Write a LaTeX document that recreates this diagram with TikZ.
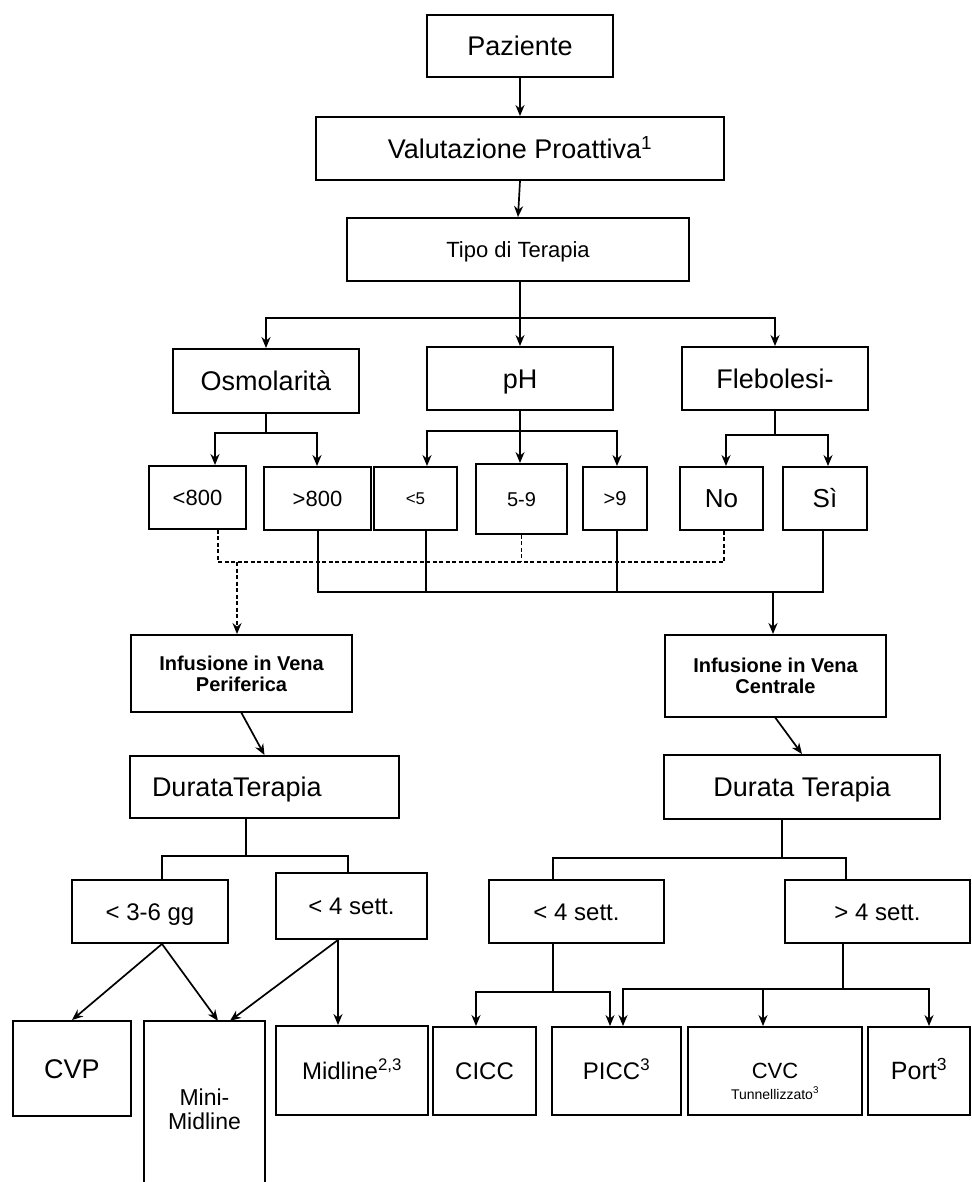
\documentclass[tikz,border=0pt]{standalone}
\usepackage{fontspec}
\setmainfont{Liberation Sans}
\usetikzlibrary{arrows.meta}

\begin{document}
\begin{tikzpicture}[x=1pt,y=-1pt,>={Stealth[length=11pt,width=9pt]},
sz/.style={font=\fontsize{#1}{#1}\selectfont,text height=0.716*#1pt,text depth=0pt},
box/.style={draw,line width=1.9pt,inner sep=0pt,align=center},
frame/.style={line width=1.9pt},
wire/.style={line width=1.7pt,line cap=rect},
bus/.style={line width=2.8pt,line cap=rect},
dotline/.style={line width=1.6pt,dash pattern=on 4pt off 2.5pt}]
\useasboundingbox (0,0) rectangle (971,1182);
\node[box,sz=27,minimum width=186pt,minimum height=62pt](paz) at (520,46){Paziente};
\node[box,sz=27,minimum width=408pt,minimum height=63pt](val) at (520,148.5){Valutazione Proattiva\textsuperscript{1}};
\node[box,sz=22,minimum width=342pt,minimum height=63pt](tipo) at (518,249.5){Tipo di Terapia};
\node[box,sz=27,minimum width=186pt,minimum height=64pt](osm) at (266,381){Osmolarità};
\node[box,sz=27,minimum width=186pt,minimum height=63pt](ph) at (520,378.5){pH};
\node[box,sz=27,minimum width=186pt,minimum height=63pt](fleb) at (775,378.5){Flebolesi-};
\node[box,sz=22,minimum width=97pt,minimum height=63pt](lt800) at (197.5,497.5){<800};
\node[box,sz=22,minimum width=107pt,minimum height=63pt](gt800) at (317.5,498.5){>800};
\node[box,sz=17,minimum width=83pt,minimum height=63pt](lt5) at (415.5,498.5){<5};
\node[box,sz=20,minimum width=91pt,minimum height=70pt](r59) at (521.5,499){5-9};
\node[box,sz=20,minimum width=64pt,minimum height=63pt](gt9) at (615,498.5){>9};
\node[box,sz=26,minimum width=83pt,minimum height=63pt](no) at (721.5,498.5){No};
\node[box,sz=26,minimum width=84pt,minimum height=63pt](si) at (825,498.5){Sì};
\node[box,minimum width=221pt,minimum height=77pt,font=\bfseries\fontsize{20}{21}\selectfont](periph) at (241.5,673.5){Infusione in Vena\\Periferica};
\node[box,minimum width=221pt,minimum height=82pt,font=\bfseries\fontsize{20}{21}\selectfont](cent) at (775.5,676){Infusione in Vena\\Centrale};
\node[box,sz=27,minimum height=62pt,text width=225pt,inner xsep=22pt,align=left](dur1) at (264.5,787){DurataTerapia};
\node[box,sz=27,minimum width=276pt,minimum height=64pt](dur2) at (802,787){Durata Terapia};
\node[box,sz=24,minimum width=156pt,minimum height=63pt](a36) at (150,911.5){< 3-6 gg};
\node[box,sz=24,minimum width=151pt,minimum height=66pt](s4l) at (351.5,906){< 4 sett.};
\node[box,sz=24,minimum width=175pt,minimum height=63pt](s4r) at (576.5,911.5){< 4 sett.};
\node[box,sz=24,minimum width=185pt,minimum height=63pt](g4) at (877.5,911.5){> 4 sett.};
\node[box,sz=27,minimum width=118pt,minimum height=95pt](cvp) at (72,1068.5){CVP};
\node[align=center,inner sep=0pt,minimum width=121pt,minimum height=161pt,text height=55pt,text depth=0pt,font=\fontsize{23}{24}\selectfont](mm) at (204.5,1101.5){Mini-\\Midline};
\node[box,sz=24,minimum width=152pt,minimum height=89pt](midl) at (352,1070.5){Midline\textsuperscript{2,3}};
\node[box,sz=24,minimum width=103pt,minimum height=88pt](cicc) at (484.5,1071){CICC};
\node[box,sz=24,minimum width=129pt,minimum height=88pt](picc) at (616.5,1071){PICC\textsuperscript{3}};
\node[box,minimum width=174pt,minimum height=88pt](cvc) at (775,1071){};
\node[align=center,inner sep=0pt,font=\fontsize{14}{21}\selectfont](cvctxt) at ([yshift=-10pt]cvc.center){{\fontsize{22}{22}\selectfont CVC}\\Tunnellizzato\textsuperscript{3}};
\node[box,sz=25,minimum width=102pt,minimum height=88pt](port) at (919,1071){Port\textsuperscript{3}};
\draw[frame](mm.south west)--(mm.north west)--(mm.north east)--(mm.south east);
\coordinate(t1) at (520,318);
\coordinate(o1) at (215,433);
\coordinate(o2) at (317,433);
\coordinate(p1) at (427,431);
\coordinate(p2) at (617,431);
\coordinate(f1) at (726,435);
\coordinate(f2) at (828,435);
\coordinate(d1) at (218,562);
\coordinate(d2) at (724,562);
\coordinate(e1) at (237,562);
\coordinate(b1) at (318,592);
\coordinate(b2) at (823,592);
\coordinate(b3) at (773,592);
\coordinate(b4) at (426,592);
\coordinate(b5) at (617,592);
\coordinate(l0) at (246,856);
\coordinate(l1) at (162,856);
\coordinate(l2) at (348,856);
\coordinate(r0) at (782,858);
\coordinate(r1) at (553,858);
\coordinate(r2) at (846,858);
\coordinate(q1) at (476,992);
\coordinate(q2) at (610,992);
\coordinate(u0) at (843,989);
\coordinate(u1) at (623,989);
\coordinate(u2) at (763,989);
\coordinate(u3) at (929,989);
\draw[wire,->](paz.south)--(val.north);
\draw[wire,->](val.south)--(tipo.north);
\draw[wire](t1 |- tipo.south)--(t1);
\draw[wire,->](t1)-|(osm.north);
\draw[wire,->](t1)--(ph.north);
\draw[wire,->](t1)-|(fleb.north);
\draw[wire](osm.south)--(osm.south |- o1);
\draw[wire](o1)--(o2);
\draw[wire,->](o1)--(o1 |- lt800.north);
\draw[wire,->](o2)--(o2 |- gt800.north);
\draw[wire](ph.south)--(ph.south |- p1);
\draw[wire](p1)--(p2);
\draw[wire,->](p1)--(p1 |- lt5.north);
\draw[wire,->](ph.south |- p1)--(ph.south |- r59.north);
\draw[wire,->](p2)--(p2 |- gt9.north);
\draw[wire](fleb.south)--(fleb.south |- f1);
\draw[wire](f1)--(f2);
\draw[wire,->](f1)--(f1 |- no.north);
\draw[wire,->](f2)--(f2 |- si.north);
\draw[dotline](d1 |- lt800.south)--(d1)--(d2)--(d2 |- no.south);
\draw[dotline](r59.south)--(r59.south |- d1);
\draw[dotline,->](e1)--(e1 |- periph.north);
\draw[bus](b1 |- gt800.south)--(b1)--(b2)--(b2 |- si.south);
\draw[bus](b4 |- lt5.south)--(b4);
\draw[bus](b5 |- gt9.south)--(b5);
\draw[bus,->](b3)--(b3 |- cent.north);
\draw[wire,->](periph.south)--(dur1.north);
\draw[wire,->](cent.south)--(dur2.north);
\draw[wire](l0 |- dur1.south)--(l0);
\draw[wire](l1 |- a36.north)--(l1)--(l2)--(l2 |- s4l.north);
\draw[wire](r0 |- dur2.south)--(r0);
\draw[wire](r1 |- s4r.north)--(r1)--(r2)--(r2 |- g4.north);
\draw[wire,->](l1 |- a36.south)--(cvp.north);
\draw[wire,->](l1 |- a36.south)--([xshift=13.5pt]mm.north);
\draw[wire,->]([xshift=-13.5pt]s4l.south)--([xshift=25.5pt]mm.north);
\draw[wire,->]([xshift=-13.5pt]s4l.south)--([xshift=-13.5pt]s4l.south |- midl.north);
\draw[wire](r1 |- s4r.south)--(r1 |- q1);
\draw[wire](q1)--(q2);
\draw[wire,->](q1)--(q1 |- cicc.north);
\draw[wire,->](q2)--(q2 |- picc.north);
\draw[wire](u0 |- g4.south)--(u0);
\draw[wire](u1)--(u3);
\draw[wire,->](u1)--(u1 |- picc.north);
\draw[wire,->](u2)--(u2 |- cvc.north);
\draw[wire,->](u3)--(u3 |- port.north);
\end{tikzpicture}
\end{document}
